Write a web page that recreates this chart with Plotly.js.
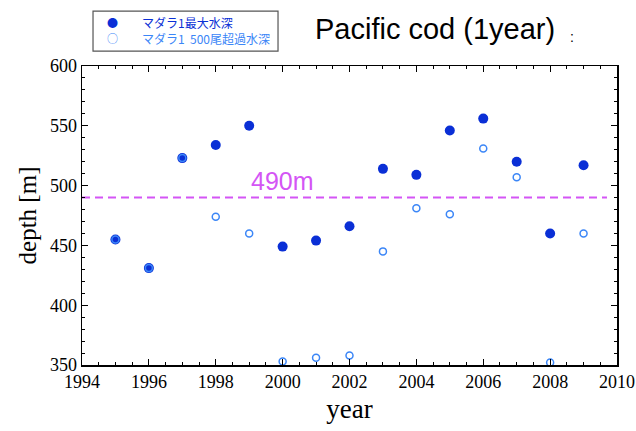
<!DOCTYPE html>
<html>
<head>
<meta charset="utf-8">
<script src="https://cdn.plot.ly/plotly-3.0.1.min.js"></script>
<style>
  html, body { margin: 0; padding: 0; background: #fff; }
  #chart { width: 636px; height: 431px; }
</style>
</head>
<body>
<div id="chart"></div>
<script>
// Survey years
const years = [1995, 1996, 1997, 1998, 1999, 2000, 2001, 2002, 2003, 2004, 2005, 2006, 2007, 2008, 2009];
// Maximum depth where 1-year Pacific cod were caught (m)
const maxDepth = [455, 431, 523, 534, 550, 449, 454, 466, 514, 509, 546, 556, 520, 460, 517];
// Deepest depth with more than 500 fish (m)
const over500Depth = [455, 431, 523, 474, 460, 353, 356, 358, 445, 481, 476, 531, 507, 352, 460];
// Reference depth line
const refDepth = 490;
const refSpan = [1994, 2009.7];

const seriesNames = ['マダラ1最大水深', 'マダラ1\u00a0\u00a0500尾超過水深'];
const xTicks = [1994, 1996, 1998, 2000, 2002, 2004, 2006, 2008, 2010];
const yTicks = [350, 400, 450, 500, 550, 600];

const serif = '"Liberation Serif", "DejaVu Serif", serif';
const sans = '"Liberation Sans", Arial, sans-serif';
const cjk = '"Noto Sans CJK JP", "Noto Sans", sans-serif';

const dark = '#0a2fd6';
const light = '#3b86f7';
const magenta = '#d455f5';

const traces = [
  {
    x: refSpan,
    y: refSpan.map(() => refDepth),
    mode: 'lines',
    line: { color: magenta, width: 2, dash: '8px,5px' },
    showlegend: false,
    hoverinfo: 'skip'
  },
  {
    x: years,
    y: maxDepth,
    mode: 'markers',
    name: seriesNames[0],
    marker: { symbol: 'circle', size: 10, color: dark, line: { width: 0 } }
  },
  {
    x: years,
    y: over500Depth,
    mode: 'markers',
    name: seriesNames[1],
    marker: { symbol: 'circle-open', size: 7, color: light, line: { width: 1.5, color: light } }
  }
];

// Legend box, drawn in paper coordinates above the plot frame
const legendShape = {
  type: 'rect', xref: 'paper', yref: 'paper',
  x0: 0.0206, x1: 0.3664, y0: 1.05, y1: 1.1833,
  line: { color: '#555', width: 1.2 }, fillcolor: '#fff', layer: 'above'
};

const legendNotes = [
  { x: 0.0579, y: 1.1467, text: '●', color: dark, size: 11, anchor: 'center' },
  { x: 0.1084, y: 1.1467, text: seriesNames[0], color: dark, size: 12, anchor: 'left' },
  { x: 0.0579, y: 1.0933, text: '○', color: light, size: 11, anchor: 'center' },
  { x: 0.1084, y: 1.0933, text: seriesNames[1], color: light, size: 12, anchor: 'left' }
].map(d => ({
  xref: 'paper', yref: 'paper', x: d.x, y: d.y,
  xanchor: d.anchor, yanchor: 'middle',
  text: d.text, showarrow: false,
  font: { family: cjk, size: d.size, color: d.color }
}));

const layout = {
  width: 636,
  height: 431,
  margin: { l: 82, r: 19, t: 66, b: 66 },
  paper_bgcolor: '#fff',
  plot_bgcolor: '#fff',
  showlegend: false,
  xaxis: {
    range: [1994, 2010],
    tickvals: xTicks,
    ticktext: xTicks.map(String),
    ticks: 'inside', ticklen: 6, tickwidth: 1, tickcolor: '#000',
    minor: { dtick: 0.5, tick0: 1994, ticks: 'inside', ticklen: 3, tickcolor: '#000', showgrid: false },
    showline: true, linecolor: '#000', linewidth: 1.5, mirror: 'ticks',
    showgrid: false, zeroline: false, automargin: false,
    tickfont: { family: serif, size: 18, color: '#000' },
    title: { text: 'year', font: { family: serif, size: 27, color: '#000' }, standoff: 8 }
  },
  yaxis: {
    range: [350, 600],
    tickvals: yTicks,
    ticktext: yTicks.map(String),
    ticks: 'inside', ticklen: 6, tickwidth: 1, tickcolor: '#000',
    minor: { dtick: 10, tick0: 350, ticks: 'inside', ticklen: 3, tickcolor: '#000', showgrid: false },
    showline: true, linecolor: '#000', linewidth: 1.5, mirror: 'ticks',
    showgrid: false, zeroline: false, automargin: false,
    tickfont: { family: serif, size: 18, color: '#000' },
    title: { text: 'depth [m]', font: { family: serif, size: 25, color: '#000' }, standoff: 6 }
  },
  shapes: [legendShape],
  annotations: legendNotes.concat([
    {
      xref: 'paper', yref: 'paper', x: 0.888, y: 1.123,
      xanchor: 'right', yanchor: 'middle',
      text: 'Pacific cod (1year)', showarrow: false,
      font: { family: sans, size: 29, color: '#000' }
    },
    {
      xref: 'paper', yref: 'paper', x: 0.916, y: 1.097,
      xanchor: 'center', yanchor: 'middle',
      text: ':', showarrow: false,
      font: { family: sans, size: 14, color: '#000' }
    },
    {
      x: 2000, y: refDepth, yshift: 17,
      xanchor: 'center', yanchor: 'middle',
      text: refDepth + 'm', showarrow: false,
      font: { family: sans, size: 25, color: magenta }
    }
  ])
};

Plotly.newPlot('chart', traces, layout, { displayModeBar: false, staticPlot: true });
</script>
</body>
</html>
